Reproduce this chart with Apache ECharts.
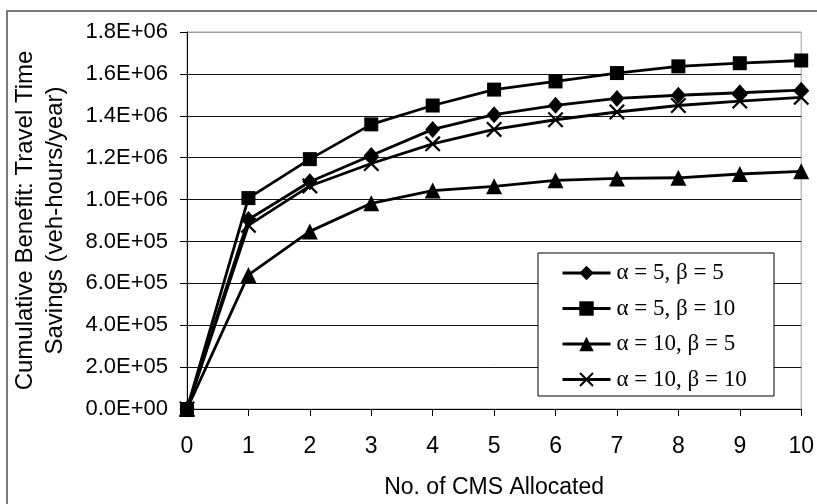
<!DOCTYPE html>
<html>
<head>
<meta charset="utf-8">
<script src="https://cdn.jsdelivr.net/npm/echarts@6/dist/echarts.min.js"></script>
<style>
    html, body { margin: 0; padding: 0; background: #fff; }
    #cmsChart { width: 817px; height: 504px; }
</style>
</head>
<body>
<div id="cmsChart"></div>
<script>
// CMS allocated (x axis)
const cmsCount = ['0', '1', '2', '3', '4', '5', '6', '7', '8', '9', '10']
// cumulative benefit, veh-hours/year
const a5b5 = [0, 905000, 1085000, 1210000, 1335000, 1405000, 1450000, 1483000, 1498000, 1510000, 1522000]
const a5b10 = [0, 1007000, 1193000, 1359000, 1449000, 1525000, 1564000, 1604000, 1636000, 1651000, 1664000]
const a10b5 = [0, 640000, 848000, 982000, 1043000, 1063000, 1092000, 1101000, 1104000, 1122000, 1135000]
const a10b10 = [0, 877000, 1065000, 1172000, 1266000, 1335000, 1381000, 1418000, 1449000, 1470000, 1488000]
const yTickLabels = ['0.0E+00', '2.0E+05', '4.0E+05', '6.0E+05', '8.0E+05', '1.0E+06', '1.2E+06', '1.4E+06', '1.6E+06', '1.8E+06']
const seriesNames = ['α = 5, β = 5', 'α = 5, β = 10', 'α = 10, β = 5', 'α = 10, β = 10']

const sans = "'Liberation Sans', Arial, sans-serif"
const serif = "'Liberation Serif', 'Times New Roman', serif"
const crossIcon = 'path://M0,1 L1,0 L10,9 L9,10 Z M9,0 L10,1 L1,10 L0,9 Z'

function makeSeries (name, data, symbol, size) {
    return {
        name: name,
        type: 'line',
        data: data,
        symbol: symbol,
        symbolSize: size,
        showAllSymbol: true,
        lineStyle: { color: '#000', width: 2.8 },
        itemStyle: { color: '#000', borderWidth: 0 },
        emphasis: { disabled: true }
    }
}

const chart = echarts.init(document.getElementById('cmsChart'), null, { renderer: 'canvas' })
chart.setOption({
    backgroundColor: '#fff',
    animation: false,
    textStyle: { fontFamily: sans },
    graphic: [
        {
            type: 'rect',
            shape: { x: 7, y: 11, width: 830, height: 520 },
            style: { fill: 'none', stroke: '#7a7a7a', lineWidth: 2 },
            z: 0
        },
        {
            type: 'rect',
            shape: { x: 538, y: 253, width: 236, height: 143 },
            style: { fill: '#fff', stroke: '#000', lineWidth: 1 },
            z: 10
        }
    ],
    legend: {
        orient: 'vertical',
        left: 538,
        top: 253,
        padding: [8, 10, 5, 23],
        itemWidth: 48,
        itemHeight: 18,
        itemGap: 11.5,
        z: 11,
        selectedMode: false,
        lineStyle: { width: 3 },
        textStyle: { fontFamily: serif, fontSize: 23, color: '#000', lineHeight: 24, padding: [0, 0, 0, 1] },
        data: seriesNames
    },
    grid: {
        left: 187,
        right: 12,
        top: 32,
        bottom: 92,
        show: true,
        borderColor: '#a0a0a0',
        borderWidth: 1,
        containLabel: false
    },
    xAxis: {
        type: 'category',
        boundaryGap: false,
        data: cmsCount,
        name: 'No. of CMS Allocated',
        nameLocation: 'middle',
        nameGap: 67,
        nameTextStyle: { fontSize: 23, color: '#000', fontFamily: sans },
        axisLine: { lineStyle: { color: '#000', width: 1 } },
        axisTick: { show: true, length: 7, alignWithLabel: true, lineStyle: { color: '#000' } },
        axisLabel: { fontSize: 23, color: '#000', margin: 26, fontFamily: sans },
        splitLine: { show: false }
    },
    yAxis: {
        type: 'value',
        min: 0,
        max: 1800000,
        interval: 200000,
        name: 'Cumulative Benefit: Travel Time\nSavings (veh-hours/year)',
        nameLocation: 'middle',
        nameRotate: 90,
        nameGap: 117,
        nameTextStyle: { fontSize: 24, color: '#000', lineHeight: 30, fontFamily: sans },
        axisLine: { show: true, lineStyle: { color: '#000', width: 1 } },
        axisTick: { show: true, length: 7, lineStyle: { color: '#000' } },
        axisLabel: {
            fontSize: 22,
            color: '#000',
            margin: 19,
            fontFamily: sans,
            formatter: function (v) { return yTickLabels[Math.round(v / 200000)] }
        },
        splitLine: {
            show: true,
            lineStyle: {
                color: ['#000', '#111', '#111', '#111', '#111', '#111', '#111', '#111', '#111', '#a0a0a0'],
                width: 1
            }
        }
    },
    series: [
        makeSeries(seriesNames[0], a5b5, 'diamond', [15, 17]),
        makeSeries(seriesNames[1], a5b10, 'rect', 14),
        makeSeries(seriesNames[2], a10b5, 'triangle', 16),
        makeSeries(seriesNames[3], a10b10, crossIcon, 16)
    ]
})
</script>
</body>
</html>
